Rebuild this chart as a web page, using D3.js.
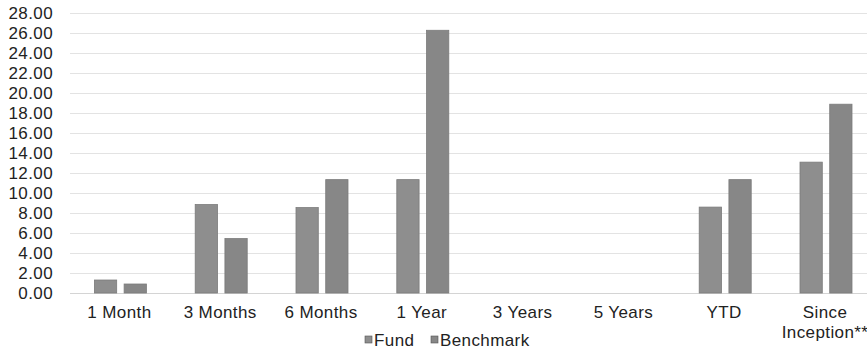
<!DOCTYPE html>
<html>
<head>
<meta charset="utf-8">
<script src="https://cdn.jsdelivr.net/npm/d3@7"></script>
<style>
  html, body { margin: 0; padding: 0; background: #ffffff; }
  svg { display: block; }
  text { font-family: "Liberation Sans", Arial, sans-serif; fill: #222; }
</style>
</head>
<body>
<svg id="chart" width="867" height="352"></svg>
<script>
// Performance periods and returns (%)
const categories = ["1 Month", "3 Months", "6 Months", "1 Year", "3 Years", "5 Years", "YTD", "Since Inception**"];
const fundValues = [1.30, 8.85, 8.55, 11.35, null, null, 8.60, 13.10];
const benchmarkValues = [0.90, 5.45, 11.35, 26.30, null, null, 11.35, 18.90];
const seriesNames = ["Fund", "Benchmark"];
const yTicks = [0, 2, 4, 6, 8, 10, 12, 14, 16, 18, 20, 22, 24, 26, 28];

const svg = d3.select("#chart");
const W = 867;
const plotLeft = 70, plotRight = 876.4;
const yBottom = 293, yTop = 13.3;

const colors = { Fund: "#8e8e8e", Benchmark: "#878787" };

const x0 = d3.scaleBand().domain(categories).range([plotLeft, plotRight]).padding(0);
const x1 = d3.scaleBand().domain(seriesNames).range([0, 52]).paddingInner(0.25).paddingOuter(0);
const y = d3.scaleLinear().domain([0, 28]).range([yBottom, yTop]);

// gridlines
svg.append("g").selectAll("line").data(yTicks).join("line")
  .attr("x1", plotLeft).attr("x2", W)
  .attr("y1", d => Math.round(y(d)) + 0.5).attr("y2", d => Math.round(y(d)) + 0.5)
  .attr("stroke", d => d === 0 ? "#d4d4d4" : "#e3e3e3").attr("stroke-width", 1);

// y axis labels
const yAxis = d3.axisLeft(y).tickValues(yTicks).tickFormat(d3.format(".2f")).tickSize(0).tickPadding(0);
const gy = svg.append("g").attr("transform", "translate(53,0)").call(yAxis);
gy.select(".domain").remove();
gy.selectAll("text")
  .attr("font-size", 17).attr("letter-spacing", 0.4)
  .style("font-family", "'Liberation Sans', Arial, sans-serif").attr("fill", "#222");

// bars
const rows = categories.map((c, i) => ({ cat: c, vals: [
  { s: "Fund", v: fundValues[i] }, { s: "Benchmark", v: benchmarkValues[i] }
]}));
const groups = svg.append("g").selectAll("g").data(rows).join("g")
  .attr("transform", d => `translate(${x0(d.cat) + x0.bandwidth() / 2 - 26},0)`);
groups.selectAll("rect").data(d => d.vals.filter(e => e.v != null)).join("rect")
  .attr("x", d => x1(d.s))
  .attr("width", x1.bandwidth())
  .attr("y", d => y(d.v))
  .attr("height", d => y(0) - y(d.v))
  .attr("fill", d => colors[d.s])
  .attr("stroke", "#7b7b7b").attr("stroke-width", 0.8);

// x axis labels
const xLabels = svg.append("g");
categories.forEach(c => {
  const cx = x0(c) + x0.bandwidth() / 2 - 1;
  const t = xLabels.append("text").attr("text-anchor", "middle")
    .attr("font-size", 17).attr("letter-spacing", 0.4);
  if (c === "Since Inception**") {
    t.append("tspan").attr("x", cx).attr("y", 318).text("Since");
    t.append("tspan").attr("x", cx).attr("y", 338).text("Inception**");
  } else {
    t.attr("x", cx).attr("y", 318).text(c);
  }
});

// legend
const legend = svg.append("g");
const legendItems = [{ s: "Fund", x: 365 }, { s: "Benchmark", x: 431 }];
legendItems.forEach(it => {
  legend.append("rect").attr("x", it.x).attr("y", 336).attr("width", 7).attr("height", 7)
    .attr("fill", colors[it.s]).attr("stroke", "#555").attr("stroke-width", 0.6);
  legend.append("text").attr("x", it.x + 9).attr("y", 345.5)
    .attr("font-size", 17).attr("letter-spacing", 0.4).text(it.s);
});
</script>
</body>
</html>
